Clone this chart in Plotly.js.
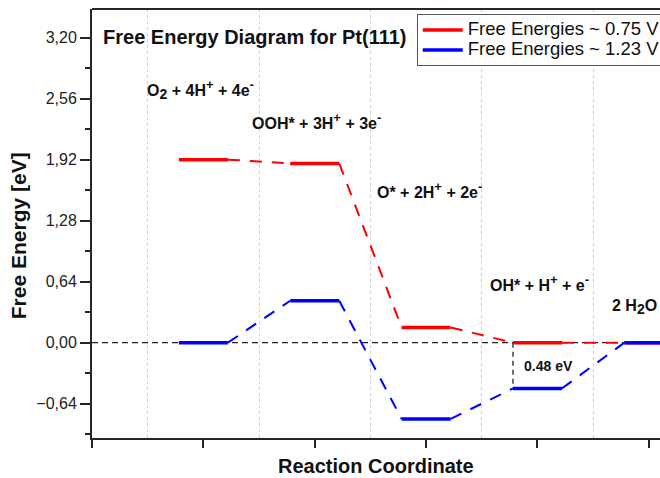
<!DOCTYPE html>
<html>
<head>
<meta charset="utf-8">
<script src="https://cdn.plot.ly/plotly-3.0.1.min.js"></script>
<style>html,body{margin:0;padding:0;background:#fff;}#chart{width:660px;height:478px;}</style>
</head>
<body>
<div id="chart"></div>
<script>
// ---- data ----
const stepX = [1, 2, 3, 4, 5];
const stepLabels = [
  'O<sub>2</sub> + 4H<sup>+</sup> + 4e<sup>-</sup>',
  'OOH* + 3H<sup>+</sup> + 3e<sup>-</sup>',
  'O* + 2H<sup>+</sup> + 2e<sup>-</sup>',
  'OH* + H<sup>+</sup> + e<sup>-</sup>',
  '2 H<sub>2</sub>O'
];
const seriesNames = ['Free Energies ~ 0.75 V', 'Free Energies ~ 1.23 V'];
const energy075 = [1.92, 1.88, 0.16, 0.00, 0.00];
const energy123 = [0.00, 0.44, -0.80, -0.48, 0.00];
const yTickVals = [-0.64, 0.00, 0.64, 1.28, 1.92, 2.56, 3.20];

// ---- styling / layout ----
const HW = 0.22; // half width of a level
const FONT = 'Arial, "Liberation Sans", sans-serif';
const AX = '#262626';

function levels(e) {
  const x = [], y = [];
  stepX.forEach((s, i) => { x.push(s - HW, s + HW, null); y.push(e[i], e[i], null); });
  return {x, y};
}
function connectors(e) {
  const x = [], y = [];
  for (let i = 0; i < stepX.length - 1; i++) {
    x.push(stepX[i] + HW, stepX[i + 1] - HW, null);
    y.push(e[i], e[i + 1], null);
  }
  return {x, y};
}
// enlarge sub/superscripts a bit (reference uses larger scripts)
function bigScripts(t) {
  return t.replace(/<sup>(.*?)<\/sup>/g, '<sup><span style="font-size:13px">$1</span></sup>')
          .replace(/<sub>(.*?)<\/sub>/g, '<sub><span style="font-size:14px">$1</span></sub>');
}
const colors = ['#ff0000', '#0000ff'];
const traces = [];
[energy075, energy123].forEach((e, k) => {
  const c = connectors(e), l = levels(e);
  traces.push({x: c.x, y: c.y, mode: 'lines', showlegend: false, hoverinfo: 'skip',
    line: {color: colors[k], width: 2, dash: '12px,10px'}});
  traces.push({x: l.x, y: l.y, mode: 'lines',
    name: '<span style="font-size:18.5px">' + seriesNames[k] + '</span>',
    line: {color: colors[k], width: 3.5}});
});

const gap = energy075[3] - energy123[3];
const labelPos = [
  {x: 0.476, y: 2.66},
  {x: 1.418, y: 2.32},
  {x: 2.540, y: 1.60},
  {x: 3.555, y: 0.63},
  {x: 4.650, y: 0.37}
];
const annotations = stepLabels.map((t, i) => ({
  x: labelPos[i].x, y: labelPos[i].y, xref: 'x', yref: 'y',
  xanchor: 'left', yanchor: 'middle', showarrow: false,
  text: '<b>' + bigScripts(t) + '</b>', font: {family: FONT, size: 16, color: '#111'}
}));
annotations.push({
  x: stepX[3] - HW + 0.08, y: (energy075[3] + energy123[3]) / 2, xref: 'x', yref: 'y',
  xanchor: 'left', yanchor: 'middle', showarrow: false,
  text: '<b>' + gap.toFixed(2) + ' eV</b>', font: {family: FONT, size: 14, color: '#111'}
});
// axis titles (placed as annotations to match the reference offsets)
annotations.push({
  x: -0.128, y: 0.471, xref: 'paper', yref: 'paper', xanchor: 'center', yanchor: 'middle',
  textangle: -90, showarrow: false, text: 'Free Energy [eV]',
  font: {family: FONT, size: 21, weight: 'bold', color: '#111'}
});
annotations.push({
  x: 0.5, y: -0.0925, xref: 'paper', yref: 'paper', xanchor: 'center', yanchor: 'bottom',
  showarrow: false, borderpad: 0, text: 'Reaction Coordinate',
  font: {family: FONT, size: 20, weight: 'bold', color: '#111'}
});

const layout = {
  width: 660, height: 478,
  margin: {l: 92, r: 0, t: 9, b: 40, autoexpand: false},
  paper_bgcolor: '#fff', plot_bgcolor: '#fff',
  separators: ',.',
  font: {family: FONT, color: '#111'},
  title: {text: 'Free Energy Diagram for Pt(111)', xref: 'paper', yref: 'paper',
    x: 0.0194, xanchor: 'left', y: 0.935, yanchor: 'middle',
    font: {family: FONT, size: 20, weight: 'bold', color: '#111'}},
  xaxis: {
    range: [0, 5.1], showgrid: false, zeroline: false,
    showline: true, linecolor: AX, linewidth: 2,
    tickmode: 'linear', tick0: 0, dtick: 1, ticks: 'outside', ticklen: 8, tickwidth: 2, tickcolor: AX,
    showticklabels: false,
    minor: {tickmode: 'linear', tick0: 0.5, dtick: 1, showgrid: true, gridcolor: '#cfcfcf', griddash: 'dot', gridwidth: 1, ticks: ''}
  },
  yaxis: {
    range: [-1.0, 3.5], showgrid: false, zeroline: false,
    showline: true, linecolor: AX, linewidth: 2,
    tickmode: 'array', tickvals: yTickVals, tickformat: '.2f',
    ticks: 'outside', ticklen: 10, tickwidth: 2, tickcolor: AX,
    minor: {tickmode: 'linear', tick0: 0, dtick: 0.32, ticks: 'outside', ticklen: 5, tickwidth: 2, tickcolor: AX, showgrid: false},
    tickfont: {family: FONT, size: 16, color: '#222'}
  },
  legend: {
    x: 0.5717, xanchor: 'left', y: 0.988, yanchor: 'top', xref: 'paper', yref: 'paper',
    bgcolor: '#fff', bordercolor: '#555', borderwidth: 1, itemwidth: 40,
    font: {family: FONT, size: 13, color: '#111'}, tracegroupgap: 0
  },
  shapes: [
    {type: 'line', xref: 'paper', yref: 'y', x0: 0, x1: 1, y0: 0, y1: 0, layer: 'between',
      line: {color: '#222', width: 1.3, dash: '6px,4px'}},
    {type: 'line', xref: 'x', yref: 'y', x0: stepX[3] - HW, x1: stepX[3] - HW,
      y0: energy075[3], y1: energy123[3], layer: 'between',
      line: {color: '#222', width: 1.3, dash: '5px,4px'}},
    {type: 'line', xref: 'paper', yref: 'paper', x0: 0, x1: 1, y0: 1, y1: 1, layer: 'above',
      line: {color: AX, width: 2}}
  ],
  annotations: annotations
};

Plotly.newPlot('chart', traces, layout, {displayModeBar: false, staticPlot: true});
</script>
</body>
</html>
